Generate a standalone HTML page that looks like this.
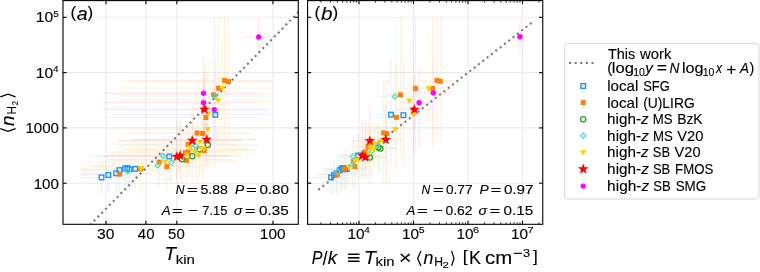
<!DOCTYPE html>
<html><head><meta charset="utf-8"><title>figure</title>
<style>html,body{margin:0;padding:0;background:#fff;}svg{display:block;will-change:transform;}</style>
</head><body>
<svg width="760" height="272" viewBox="0 0 760 272" font-family='"Liberation Sans", sans-serif'>
<style>text{stroke:#000;stroke-width:0.12px;}</style>
<rect width="760" height="272" fill="#fff"/>
<defs>
<clipPath id="ca"><rect x="63.0" y="0.6" width="235.3" height="223.70000000000002"/></clipPath>
<clipPath id="cb"><rect x="307.6" y="0.6" width="235.14999999999998" height="223.70000000000002"/></clipPath>
</defs>
<line x1="105.99" y1="0.6" x2="105.99" y2="224.3" stroke="#ebebeb" stroke-width="1.1"/>
<line x1="145.90" y1="0.6" x2="145.90" y2="224.3" stroke="#ebebeb" stroke-width="1.1"/>
<line x1="176.85" y1="0.6" x2="176.85" y2="224.3" stroke="#ebebeb" stroke-width="1.1"/>
<line x1="273.00" y1="0.6" x2="273.00" y2="224.3" stroke="#ebebeb" stroke-width="1.1"/>
<line x1="63.0" y1="183.20" x2="298.3" y2="183.20" stroke="#ebebeb" stroke-width="1.1"/>
<line x1="63.0" y1="127.90" x2="298.3" y2="127.90" stroke="#ebebeb" stroke-width="1.1"/>
<line x1="63.0" y1="72.60" x2="298.3" y2="72.60" stroke="#ebebeb" stroke-width="1.1"/>
<line x1="63.0" y1="17.30" x2="298.3" y2="17.30" stroke="#ebebeb" stroke-width="1.1"/>
<line x1="359.00" y1="0.6" x2="359.00" y2="224.3" stroke="#ebebeb" stroke-width="1.1"/>
<line x1="413.50" y1="0.6" x2="413.50" y2="224.3" stroke="#ebebeb" stroke-width="1.1"/>
<line x1="468.00" y1="0.6" x2="468.00" y2="224.3" stroke="#ebebeb" stroke-width="1.1"/>
<line x1="522.50" y1="0.6" x2="522.50" y2="224.3" stroke="#ebebeb" stroke-width="1.1"/>
<line x1="307.6" y1="183.20" x2="542.75" y2="183.20" stroke="#ebebeb" stroke-width="1.1"/>
<line x1="307.6" y1="127.90" x2="542.75" y2="127.90" stroke="#ebebeb" stroke-width="1.1"/>
<line x1="307.6" y1="72.60" x2="542.75" y2="72.60" stroke="#ebebeb" stroke-width="1.1"/>
<line x1="307.6" y1="17.30" x2="542.75" y2="17.30" stroke="#ebebeb" stroke-width="1.1"/>
<g clip-path="url(#ca)" stroke-width="1" opacity="0.13">
<line x1="80.5" y1="177.40" x2="136.5" y2="177.40" stroke="#1e90ff"/>
<line x1="101.50" y1="162.4" x2="101.50" y2="195.0" stroke="#1e90ff"/>
<line x1="80.5" y1="175.00" x2="143.4" y2="175.00" stroke="#1e90ff"/>
<line x1="108.40" y1="160.0" x2="108.40" y2="195.0" stroke="#1e90ff"/>
<line x1="80.5" y1="173.30" x2="151.2" y2="173.30" stroke="#1e90ff"/>
<line x1="116.20" y1="158.3" x2="116.20" y2="193.3" stroke="#1e90ff"/>
<line x1="80.5" y1="170.10" x2="154.5" y2="170.10" stroke="#1e90ff"/>
<line x1="119.50" y1="155.1" x2="119.50" y2="190.1" stroke="#1e90ff"/>
<line x1="80.5" y1="168.50" x2="160.1" y2="168.50" stroke="#1e90ff"/>
<line x1="125.10" y1="153.5" x2="125.10" y2="188.5" stroke="#1e90ff"/>
<line x1="80.5" y1="168.10" x2="162.4" y2="168.10" stroke="#1e90ff"/>
<line x1="127.40" y1="153.1" x2="127.40" y2="188.1" stroke="#1e90ff"/>
<line x1="80.5" y1="169.30" x2="164.6" y2="169.30" stroke="#1e90ff"/>
<line x1="129.60" y1="154.3" x2="129.60" y2="189.3" stroke="#1e90ff"/>
<line x1="85.2" y1="168.90" x2="170.2" y2="168.90" stroke="#1e90ff"/>
<line x1="135.20" y1="153.9" x2="135.20" y2="188.9" stroke="#1e90ff"/>
<line x1="94.3" y1="156.50" x2="219.3" y2="156.50" stroke="#1e90ff"/>
<line x1="169.30" y1="134.5" x2="169.30" y2="181.5" stroke="#1e90ff"/>
<line x1="115.3" y1="114.80" x2="270.3" y2="114.80" stroke="#1e90ff"/>
<line x1="215.30" y1="59.8" x2="215.30" y2="164.8" stroke="#1e90ff"/>
<line x1="80.5" y1="174.20" x2="169.6" y2="174.20" stroke="#ff7f0e"/>
<line x1="119.60" y1="152.2" x2="119.60" y2="195.0" stroke="#ff7f0e"/>
<line x1="80.5" y1="168.90" x2="190.5" y2="168.90" stroke="#ff7f0e"/>
<line x1="140.50" y1="146.9" x2="140.50" y2="193.9" stroke="#ff7f0e"/>
<line x1="84.2" y1="162.10" x2="209.2" y2="162.10" stroke="#ff7f0e"/>
<line x1="159.20" y1="140.1" x2="159.20" y2="187.1" stroke="#ff7f0e"/>
<line x1="91.9" y1="166.50" x2="216.9" y2="166.50" stroke="#ff7f0e"/>
<line x1="166.90" y1="144.5" x2="166.90" y2="191.5" stroke="#ff7f0e"/>
<line x1="110.4" y1="152.70" x2="235.4" y2="152.70" stroke="#ff7f0e"/>
<line x1="185.40" y1="130.7" x2="185.40" y2="177.7" stroke="#ff7f0e"/>
<line x1="113.1" y1="151.90" x2="238.1" y2="151.90" stroke="#ff7f0e"/>
<line x1="188.10" y1="129.9" x2="188.10" y2="176.9" stroke="#ff7f0e"/>
<line x1="113.1" y1="144.40" x2="238.1" y2="144.40" stroke="#ff7f0e"/>
<line x1="188.10" y1="122.4" x2="188.10" y2="169.4" stroke="#ff7f0e"/>
<line x1="111.5" y1="160.40" x2="236.5" y2="160.40" stroke="#ff7f0e"/>
<line x1="186.50" y1="138.4" x2="186.50" y2="185.4" stroke="#ff7f0e"/>
<line x1="129.1" y1="150.50" x2="254.1" y2="150.50" stroke="#ff7f0e"/>
<line x1="204.10" y1="128.5" x2="204.10" y2="175.5" stroke="#ff7f0e"/>
<line x1="122.1" y1="133.00" x2="247.1" y2="133.00" stroke="#ff7f0e"/>
<line x1="197.10" y1="78.0" x2="197.10" y2="183.0" stroke="#ff7f0e"/>
<line x1="127.6" y1="133.40" x2="252.6" y2="133.40" stroke="#ff7f0e"/>
<line x1="202.60" y1="78.4" x2="202.60" y2="183.4" stroke="#ff7f0e"/>
<line x1="105.9" y1="117.50" x2="260.9" y2="117.50" stroke="#ff7f0e"/>
<line x1="205.90" y1="62.5" x2="205.90" y2="167.5" stroke="#ff7f0e"/>
<line x1="113.6" y1="94.80" x2="268.6" y2="94.80" stroke="#ff7f0e"/>
<line x1="213.60" y1="17.5" x2="213.60" y2="154.8" stroke="#ff7f0e"/>
<line x1="118.6" y1="88.20" x2="273.0" y2="88.20" stroke="#ff7f0e"/>
<line x1="218.60" y1="17.5" x2="218.60" y2="148.2" stroke="#ff7f0e"/>
<line x1="124.6" y1="80.50" x2="273.0" y2="80.50" stroke="#ff7f0e"/>
<line x1="224.60" y1="17.5" x2="224.60" y2="140.5" stroke="#ff7f0e"/>
<line x1="128.5" y1="81.60" x2="273.0" y2="81.60" stroke="#ff7f0e"/>
<line x1="228.50" y1="17.5" x2="228.50" y2="141.6" stroke="#ff7f0e"/>
<line x1="132.8" y1="145.10" x2="257.8" y2="145.10" stroke="#2ca02c"/>
<line x1="207.80" y1="123.1" x2="207.80" y2="170.1" stroke="#2ca02c"/>
<line x1="107.0" y1="159.30" x2="232.0" y2="159.30" stroke="#2ca02c"/>
<line x1="182.00" y1="137.3" x2="182.00" y2="184.3" stroke="#2ca02c"/>
<line x1="117.2" y1="156.30" x2="242.2" y2="156.30" stroke="#2ca02c"/>
<line x1="192.20" y1="134.3" x2="192.20" y2="181.3" stroke="#2ca02c"/>
<line x1="124.7" y1="149.40" x2="249.7" y2="149.40" stroke="#2ca02c"/>
<line x1="199.70" y1="127.4" x2="199.70" y2="174.4" stroke="#2ca02c"/>
<line x1="80.5" y1="171.30" x2="177.6" y2="171.30" stroke="#40e0d0"/>
<line x1="127.60" y1="149.3" x2="127.60" y2="195.0" stroke="#40e0d0"/>
<line x1="82.6" y1="165.40" x2="207.6" y2="165.40" stroke="#40e0d0"/>
<line x1="157.60" y1="143.4" x2="157.60" y2="190.4" stroke="#40e0d0"/>
<line x1="88.1" y1="156.00" x2="213.1" y2="156.00" stroke="#40e0d0"/>
<line x1="163.10" y1="134.0" x2="163.10" y2="181.0" stroke="#40e0d0"/>
<line x1="96.3" y1="162.60" x2="221.3" y2="162.60" stroke="#40e0d0"/>
<line x1="171.30" y1="140.6" x2="171.30" y2="187.6" stroke="#40e0d0"/>
<line x1="118.1" y1="148.30" x2="243.1" y2="148.30" stroke="#40e0d0"/>
<line x1="193.10" y1="126.3" x2="193.10" y2="173.3" stroke="#40e0d0"/>
<line x1="120.8" y1="145.50" x2="245.8" y2="145.50" stroke="#40e0d0"/>
<line x1="195.80" y1="123.5" x2="195.80" y2="170.5" stroke="#40e0d0"/>
<line x1="115.0" y1="96.20" x2="270.0" y2="96.20" stroke="#40e0d0"/>
<line x1="215.00" y1="19.2" x2="215.00" y2="151.2" stroke="#40e0d0"/>
<line x1="80.5" y1="168.50" x2="190.9" y2="168.50" stroke="#ffd000"/>
<line x1="140.90" y1="146.5" x2="140.90" y2="193.5" stroke="#ffd000"/>
<line x1="90.1" y1="162.10" x2="215.1" y2="162.10" stroke="#ffd000"/>
<line x1="165.10" y1="140.1" x2="165.10" y2="187.1" stroke="#ffd000"/>
<line x1="111.0" y1="154.90" x2="236.0" y2="154.90" stroke="#ffd000"/>
<line x1="186.00" y1="132.9" x2="186.00" y2="179.9" stroke="#ffd000"/>
<line x1="114.8" y1="147.20" x2="239.8" y2="147.20" stroke="#ffd000"/>
<line x1="189.80" y1="125.2" x2="189.80" y2="172.2" stroke="#ffd000"/>
<line x1="120.3" y1="152.10" x2="245.3" y2="152.10" stroke="#ffd000"/>
<line x1="195.30" y1="130.1" x2="195.30" y2="177.1" stroke="#ffd000"/>
<line x1="123.6" y1="155.40" x2="248.6" y2="155.40" stroke="#ffd000"/>
<line x1="198.60" y1="133.4" x2="198.60" y2="180.4" stroke="#ffd000"/>
<line x1="126.3" y1="148.80" x2="251.3" y2="148.80" stroke="#ffd000"/>
<line x1="201.30" y1="126.8" x2="201.30" y2="173.8" stroke="#ffd000"/>
<line x1="128.5" y1="148.80" x2="253.5" y2="148.80" stroke="#ffd000"/>
<line x1="203.50" y1="126.8" x2="203.50" y2="173.8" stroke="#ffd000"/>
<line x1="124.8" y1="141.90" x2="249.8" y2="141.90" stroke="#ffd000"/>
<line x1="199.80" y1="119.9" x2="199.80" y2="166.9" stroke="#ffd000"/>
<line x1="107.8" y1="129.30" x2="262.8" y2="129.30" stroke="#ffd000"/>
<line x1="207.80" y1="74.3" x2="207.80" y2="179.3" stroke="#ffd000"/>
<line x1="108.4" y1="113.40" x2="263.4" y2="113.40" stroke="#ffd000"/>
<line x1="208.40" y1="58.4" x2="208.40" y2="163.4" stroke="#ffd000"/>
<line x1="118.0" y1="100.50" x2="273.0" y2="100.50" stroke="#ffd000"/>
<line x1="218.00" y1="34.5" x2="218.00" y2="150.5" stroke="#ffd000"/>
<line x1="122.4" y1="88.20" x2="273.0" y2="88.20" stroke="#ffd000"/>
<line x1="222.40" y1="33.2" x2="222.40" y2="138.2" stroke="#ffd000"/>
<line x1="101.9" y1="156.60" x2="226.9" y2="156.60" stroke="#ff0000"/>
<line x1="176.90" y1="121.6" x2="176.90" y2="179.6" stroke="#ff0000"/>
<line x1="105.2" y1="155.50" x2="230.2" y2="155.50" stroke="#ff0000"/>
<line x1="180.20" y1="120.5" x2="180.20" y2="178.5" stroke="#ff0000"/>
<line x1="117.3" y1="140.50" x2="242.3" y2="140.50" stroke="#ff0000"/>
<line x1="192.30" y1="105.5" x2="192.30" y2="163.5" stroke="#ff0000"/>
<line x1="131.7" y1="139.40" x2="256.7" y2="139.40" stroke="#ff0000"/>
<line x1="206.70" y1="104.4" x2="206.70" y2="162.4" stroke="#ff0000"/>
<line x1="104.5" y1="109.30" x2="259.5" y2="109.30" stroke="#ff0000"/>
<line x1="204.50" y1="74.3" x2="204.50" y2="132.3" stroke="#ff0000"/>
<line x1="103.5" y1="93.20" x2="258.5" y2="93.20" stroke="#ff00ff"/>
<line x1="203.50" y1="58.2" x2="203.50" y2="138.2" stroke="#ff00ff"/>
<line x1="103.5" y1="102.70" x2="258.5" y2="102.70" stroke="#ff00ff"/>
<line x1="203.50" y1="67.7" x2="203.50" y2="147.7" stroke="#ff00ff"/>
<line x1="114.2" y1="109.60" x2="269.2" y2="109.60" stroke="#ff00ff"/>
<line x1="214.20" y1="74.6" x2="214.20" y2="154.6" stroke="#ff00ff"/>
<line x1="243.7" y1="36.90" x2="272.7" y2="36.90" stroke="#ff00ff"/>
<line x1="258.70" y1="17.5" x2="258.70" y2="54.9" stroke="#ff00ff"/>
</g>
<g clip-path="url(#cb)" stroke-width="1" opacity="0.13">
<line x1="313.1" y1="177.40" x2="349.1" y2="177.40" stroke="#1e90ff"/>
<line x1="331.10" y1="162.4" x2="331.10" y2="195.0" stroke="#1e90ff"/>
<line x1="316.0" y1="175.00" x2="352.0" y2="175.00" stroke="#1e90ff"/>
<line x1="334.00" y1="160.0" x2="334.00" y2="195.0" stroke="#1e90ff"/>
<line x1="318.5" y1="173.30" x2="354.5" y2="173.30" stroke="#1e90ff"/>
<line x1="336.50" y1="158.3" x2="336.50" y2="193.3" stroke="#1e90ff"/>
<line x1="321.8" y1="170.10" x2="357.8" y2="170.10" stroke="#1e90ff"/>
<line x1="339.80" y1="155.1" x2="339.80" y2="190.1" stroke="#1e90ff"/>
<line x1="323.5" y1="168.50" x2="359.5" y2="168.50" stroke="#1e90ff"/>
<line x1="341.50" y1="153.5" x2="341.50" y2="188.5" stroke="#1e90ff"/>
<line x1="325.0" y1="168.10" x2="361.0" y2="168.10" stroke="#1e90ff"/>
<line x1="343.00" y1="153.1" x2="343.00" y2="188.1" stroke="#1e90ff"/>
<line x1="327.5" y1="169.30" x2="363.5" y2="169.30" stroke="#1e90ff"/>
<line x1="345.50" y1="154.3" x2="345.50" y2="189.3" stroke="#1e90ff"/>
<line x1="329.0" y1="168.90" x2="365.0" y2="168.90" stroke="#1e90ff"/>
<line x1="347.00" y1="153.9" x2="347.00" y2="188.9" stroke="#1e90ff"/>
<line x1="340.2" y1="155.40" x2="376.2" y2="155.40" stroke="#1e90ff"/>
<line x1="358.20" y1="133.4" x2="358.20" y2="180.4" stroke="#1e90ff"/>
<line x1="373.0" y1="114.60" x2="409.0" y2="114.60" stroke="#1e90ff"/>
<line x1="391.00" y1="59.6" x2="391.00" y2="164.6" stroke="#1e90ff"/>
<line x1="385.4" y1="115.20" x2="421.4" y2="115.20" stroke="#1e90ff"/>
<line x1="403.40" y1="60.2" x2="403.40" y2="165.2" stroke="#1e90ff"/>
<line x1="319.1" y1="174.60" x2="355.1" y2="174.60" stroke="#ff7f0e"/>
<line x1="337.10" y1="152.6" x2="337.10" y2="195.0" stroke="#ff7f0e"/>
<line x1="326.4" y1="168.90" x2="362.4" y2="168.90" stroke="#ff7f0e"/>
<line x1="344.40" y1="146.9" x2="344.40" y2="193.9" stroke="#ff7f0e"/>
<line x1="335.4" y1="161.20" x2="371.4" y2="161.20" stroke="#ff7f0e"/>
<line x1="353.40" y1="139.2" x2="353.40" y2="186.2" stroke="#ff7f0e"/>
<line x1="336.9" y1="166.50" x2="372.9" y2="166.50" stroke="#ff7f0e"/>
<line x1="354.90" y1="144.5" x2="354.90" y2="191.5" stroke="#ff7f0e"/>
<line x1="347.4" y1="151.90" x2="383.4" y2="151.90" stroke="#ff7f0e"/>
<line x1="365.40" y1="129.9" x2="365.40" y2="176.9" stroke="#ff7f0e"/>
<line x1="350.1" y1="146.60" x2="386.1" y2="146.60" stroke="#ff7f0e"/>
<line x1="368.10" y1="124.6" x2="368.10" y2="171.6" stroke="#ff7f0e"/>
<line x1="365.7" y1="132.90" x2="401.7" y2="132.90" stroke="#ff7f0e"/>
<line x1="383.70" y1="77.9" x2="383.70" y2="182.9" stroke="#ff7f0e"/>
<line x1="368.5" y1="133.60" x2="404.5" y2="133.60" stroke="#ff7f0e"/>
<line x1="386.50" y1="78.6" x2="386.50" y2="183.6" stroke="#ff7f0e"/>
<line x1="378.5" y1="117.40" x2="414.5" y2="117.40" stroke="#ff7f0e"/>
<line x1="396.50" y1="62.4" x2="396.50" y2="167.4" stroke="#ff7f0e"/>
<line x1="382.4" y1="94.80" x2="418.4" y2="94.80" stroke="#ff7f0e"/>
<line x1="400.40" y1="17.5" x2="400.40" y2="154.8" stroke="#ff7f0e"/>
<line x1="397.5" y1="88.40" x2="433.5" y2="88.40" stroke="#ff7f0e"/>
<line x1="415.50" y1="17.5" x2="415.50" y2="148.4" stroke="#ff7f0e"/>
<line x1="414.6" y1="88.40" x2="450.6" y2="88.40" stroke="#ff7f0e"/>
<line x1="432.60" y1="17.5" x2="432.60" y2="148.4" stroke="#ff7f0e"/>
<line x1="419.0" y1="80.40" x2="455.0" y2="80.40" stroke="#ff7f0e"/>
<line x1="437.00" y1="17.5" x2="437.00" y2="140.4" stroke="#ff7f0e"/>
<line x1="422.3" y1="81.30" x2="458.3" y2="81.30" stroke="#ff7f0e"/>
<line x1="440.30" y1="17.5" x2="440.30" y2="141.3" stroke="#ff7f0e"/>
<line x1="362.4" y1="148.60" x2="398.4" y2="148.60" stroke="#2ca02c"/>
<line x1="380.40" y1="126.6" x2="380.40" y2="173.6" stroke="#2ca02c"/>
<line x1="351.9" y1="157.60" x2="387.9" y2="157.60" stroke="#2ca02c"/>
<line x1="369.90" y1="135.6" x2="369.90" y2="182.6" stroke="#2ca02c"/>
<line x1="360.3" y1="147.40" x2="396.3" y2="147.40" stroke="#2ca02c"/>
<line x1="378.30" y1="125.4" x2="378.30" y2="172.4" stroke="#2ca02c"/>
<line x1="319.3" y1="171.80" x2="355.3" y2="171.80" stroke="#40e0d0"/>
<line x1="337.30" y1="149.8" x2="337.30" y2="195.0" stroke="#40e0d0"/>
<line x1="334.9" y1="164.40" x2="370.9" y2="164.40" stroke="#40e0d0"/>
<line x1="352.90" y1="142.4" x2="352.90" y2="189.4" stroke="#40e0d0"/>
<line x1="335.0" y1="156.30" x2="371.0" y2="156.30" stroke="#40e0d0"/>
<line x1="353.00" y1="134.3" x2="353.00" y2="181.3" stroke="#40e0d0"/>
<line x1="354.0" y1="151.00" x2="390.0" y2="151.00" stroke="#40e0d0"/>
<line x1="372.00" y1="129.0" x2="372.00" y2="176.0" stroke="#40e0d0"/>
<line x1="359.5" y1="145.00" x2="395.5" y2="145.00" stroke="#40e0d0"/>
<line x1="377.50" y1="123.0" x2="377.50" y2="170.0" stroke="#40e0d0"/>
<line x1="376.9" y1="96.50" x2="412.9" y2="96.50" stroke="#40e0d0"/>
<line x1="394.90" y1="19.5" x2="394.90" y2="151.5" stroke="#40e0d0"/>
<line x1="331.3" y1="167.70" x2="367.3" y2="167.70" stroke="#ffd000"/>
<line x1="349.30" y1="145.7" x2="349.30" y2="192.7" stroke="#ffd000"/>
<line x1="337.4" y1="161.00" x2="373.4" y2="161.00" stroke="#ffd000"/>
<line x1="355.40" y1="139.0" x2="355.40" y2="186.0" stroke="#ffd000"/>
<line x1="340.2" y1="159.80" x2="376.2" y2="159.80" stroke="#ffd000"/>
<line x1="358.20" y1="137.8" x2="358.20" y2="184.8" stroke="#ffd000"/>
<line x1="350.1" y1="153.20" x2="386.1" y2="153.20" stroke="#ffd000"/>
<line x1="368.10" y1="131.2" x2="368.10" y2="178.2" stroke="#ffd000"/>
<line x1="352.3" y1="147.70" x2="388.3" y2="147.70" stroke="#ffd000"/>
<line x1="370.30" y1="125.7" x2="370.30" y2="172.7" stroke="#ffd000"/>
<line x1="355.6" y1="149.40" x2="391.6" y2="149.40" stroke="#ffd000"/>
<line x1="373.60" y1="127.4" x2="373.60" y2="174.4" stroke="#ffd000"/>
<line x1="356.7" y1="143.90" x2="392.7" y2="143.90" stroke="#ffd000"/>
<line x1="374.70" y1="121.9" x2="374.70" y2="168.9" stroke="#ffd000"/>
<line x1="362.2" y1="141.70" x2="398.2" y2="141.70" stroke="#ffd000"/>
<line x1="380.20" y1="119.7" x2="380.20" y2="166.7" stroke="#ffd000"/>
<line x1="377.1" y1="129.20" x2="413.1" y2="129.20" stroke="#ffd000"/>
<line x1="395.10" y1="74.2" x2="395.10" y2="179.2" stroke="#ffd000"/>
<line x1="395.1" y1="114.30" x2="431.1" y2="114.30" stroke="#ffd000"/>
<line x1="413.10" y1="59.3" x2="413.10" y2="164.3" stroke="#ffd000"/>
<line x1="391.2" y1="100.80" x2="427.2" y2="100.80" stroke="#ffd000"/>
<line x1="409.20" y1="34.8" x2="409.20" y2="150.8" stroke="#ffd000"/>
<line x1="410.7" y1="88.40" x2="446.7" y2="88.40" stroke="#ffd000"/>
<line x1="428.70" y1="33.4" x2="428.70" y2="138.4" stroke="#ffd000"/>
<line x1="344.2" y1="155.50" x2="380.2" y2="155.50" stroke="#ff0000"/>
<line x1="362.20" y1="120.5" x2="362.20" y2="178.5" stroke="#ff0000"/>
<line x1="347.2" y1="157.20" x2="383.2" y2="157.20" stroke="#ff0000"/>
<line x1="365.20" y1="122.2" x2="365.20" y2="180.2" stroke="#ff0000"/>
<line x1="351.8" y1="140.80" x2="387.8" y2="140.80" stroke="#ff0000"/>
<line x1="369.80" y1="105.8" x2="369.80" y2="163.8" stroke="#ff0000"/>
<line x1="367.8" y1="139.60" x2="403.8" y2="139.60" stroke="#ff0000"/>
<line x1="385.80" y1="104.6" x2="385.80" y2="162.6" stroke="#ff0000"/>
<line x1="396.4" y1="109.40" x2="432.4" y2="109.40" stroke="#ff0000"/>
<line x1="414.40" y1="74.4" x2="414.40" y2="132.4" stroke="#ff0000"/>
<line x1="415.3" y1="92.90" x2="451.3" y2="92.90" stroke="#ff00ff"/>
<line x1="433.30" y1="57.9" x2="433.30" y2="137.9" stroke="#ff00ff"/>
<line x1="401.1" y1="102.70" x2="437.1" y2="102.70" stroke="#ff00ff"/>
<line x1="419.10" y1="67.7" x2="419.10" y2="147.7" stroke="#ff00ff"/>
<line x1="396.0" y1="109.60" x2="432.0" y2="109.60" stroke="#ff00ff"/>
<line x1="414.00" y1="74.6" x2="414.00" y2="154.6" stroke="#ff00ff"/>
<line x1="514.0" y1="36.80" x2="526.0" y2="36.80" stroke="#ff00ff"/>
<line x1="520.00" y1="17.5" x2="520.00" y2="54.8" stroke="#ff00ff"/>
</g>
<line x1="86.09" y1="229.09" x2="298.57" y2="12.03" stroke="#7a7a7a" stroke-width="2.1" stroke-dasharray="2.1 3.384" clip-path="url(#ca)"/>
<line x1="318.17" y1="189.95" x2="531.63" y2="22.85" stroke="#7a7a7a" stroke-width="2.1" stroke-dasharray="2.1 3.389" clip-path="url(#cb)"/>
<g clip-path="url(#ca)">
<rect x="99.20" y="175.10" width="4.60" height="4.60" fill="none" stroke="#1e90ff" stroke-width="1.35"/>
<rect x="106.10" y="172.70" width="4.60" height="4.60" fill="none" stroke="#1e90ff" stroke-width="1.35"/>
<rect x="113.90" y="171.00" width="4.60" height="4.60" fill="none" stroke="#1e90ff" stroke-width="1.35"/>
<rect x="117.20" y="167.80" width="4.60" height="4.60" fill="none" stroke="#1e90ff" stroke-width="1.35"/>
<rect x="122.80" y="166.20" width="4.60" height="4.60" fill="none" stroke="#1e90ff" stroke-width="1.35"/>
<rect x="125.10" y="165.80" width="4.60" height="4.60" fill="none" stroke="#1e90ff" stroke-width="1.35"/>
<rect x="127.30" y="167.00" width="4.60" height="4.60" fill="none" stroke="#1e90ff" stroke-width="1.35"/>
<rect x="132.90" y="166.60" width="4.60" height="4.60" fill="none" stroke="#1e90ff" stroke-width="1.35"/>
<rect x="167.00" y="154.20" width="4.60" height="4.60" fill="none" stroke="#1e90ff" stroke-width="1.35"/>
<rect x="213.00" y="112.50" width="4.60" height="4.60" fill="none" stroke="#1e90ff" stroke-width="1.35"/>
<rect x="117.10" y="171.70" width="5.00" height="5.00" fill="#ff7f0e"/>
<rect x="138.00" y="166.40" width="5.00" height="5.00" fill="#ff7f0e"/>
<rect x="156.70" y="159.60" width="5.00" height="5.00" fill="#ff7f0e"/>
<rect x="164.40" y="164.00" width="5.00" height="5.00" fill="#ff7f0e"/>
<rect x="182.90" y="150.20" width="5.00" height="5.00" fill="#ff7f0e"/>
<rect x="185.60" y="149.40" width="5.00" height="5.00" fill="#ff7f0e"/>
<rect x="185.60" y="141.90" width="5.00" height="5.00" fill="#ff7f0e"/>
<rect x="184.00" y="157.90" width="5.00" height="5.00" fill="#ff7f0e"/>
<rect x="201.60" y="148.00" width="5.00" height="5.00" fill="#ff7f0e"/>
<rect x="194.60" y="130.50" width="5.00" height="5.00" fill="#ff7f0e"/>
<rect x="200.10" y="130.90" width="5.00" height="5.00" fill="#ff7f0e"/>
<rect x="203.40" y="115.00" width="5.00" height="5.00" fill="#ff7f0e"/>
<rect x="211.10" y="92.30" width="5.00" height="5.00" fill="#ff7f0e"/>
<rect x="216.10" y="85.70" width="5.00" height="5.00" fill="#ff7f0e"/>
<rect x="222.10" y="78.00" width="5.00" height="5.00" fill="#ff7f0e"/>
<rect x="226.00" y="79.10" width="5.00" height="5.00" fill="#ff7f0e"/>
<circle cx="207.80" cy="145.10" r="2.60" fill="none" stroke="#2ca02c" stroke-width="1.3"/>
<circle cx="182.00" cy="159.30" r="2.60" fill="none" stroke="#2ca02c" stroke-width="1.3"/>
<circle cx="192.20" cy="156.30" r="2.60" fill="none" stroke="#2ca02c" stroke-width="1.3"/>
<circle cx="199.70" cy="149.40" r="2.60" fill="none" stroke="#2ca02c" stroke-width="1.3"/>
<path d="M127.60 168.70L130.20 171.30L127.60 173.90L125.00 171.30Z" fill="none" stroke="#40e0d0" stroke-width="1.2"/>
<path d="M157.60 162.80L160.20 165.40L157.60 168.00L155.00 165.40Z" fill="none" stroke="#40e0d0" stroke-width="1.2"/>
<path d="M163.10 153.40L165.70 156.00L163.10 158.60L160.50 156.00Z" fill="none" stroke="#40e0d0" stroke-width="1.2"/>
<path d="M171.30 160.00L173.90 162.60L171.30 165.20L168.70 162.60Z" fill="none" stroke="#40e0d0" stroke-width="1.2"/>
<path d="M193.10 145.70L195.70 148.30L193.10 150.90L190.50 148.30Z" fill="none" stroke="#40e0d0" stroke-width="1.2"/>
<path d="M195.80 142.90L198.40 145.50L195.80 148.10L193.20 145.50Z" fill="none" stroke="#40e0d0" stroke-width="1.2"/>
<path d="M215.00 93.60L217.60 96.20L215.00 98.80L212.40 96.20Z" fill="none" stroke="#40e0d0" stroke-width="1.2"/>
<path d="M137.70 166.25L144.10 166.25L140.90 171.65Z" fill="#ffd000"/>
<path d="M161.90 159.85L168.30 159.85L165.10 165.25Z" fill="#ffd000"/>
<path d="M182.80 152.65L189.20 152.65L186.00 158.05Z" fill="#ffd000"/>
<path d="M186.60 144.95L193.00 144.95L189.80 150.35Z" fill="#ffd000"/>
<path d="M192.10 149.85L198.50 149.85L195.30 155.25Z" fill="#ffd000"/>
<path d="M195.40 153.15L201.80 153.15L198.60 158.55Z" fill="#ffd000"/>
<path d="M198.10 146.55L204.50 146.55L201.30 151.95Z" fill="#ffd000"/>
<path d="M200.30 146.55L206.70 146.55L203.50 151.95Z" fill="#ffd000"/>
<path d="M196.60 139.65L203.00 139.65L199.80 145.05Z" fill="#ffd000"/>
<path d="M204.60 127.05L211.00 127.05L207.80 132.45Z" fill="#ffd000"/>
<path d="M205.20 111.15L211.60 111.15L208.40 116.55Z" fill="#ffd000"/>
<path d="M214.80 98.25L221.20 98.25L218.00 103.65Z" fill="#ffd000"/>
<path d="M219.20 85.95L225.60 85.95L222.40 91.35Z" fill="#ffd000"/>
<circle cx="203.50" cy="93.20" r="2.70" fill="#ff00ff"/>
<circle cx="203.50" cy="102.70" r="2.70" fill="#ff00ff"/>
<circle cx="214.20" cy="109.60" r="2.70" fill="#ff00ff"/>
<circle cx="258.70" cy="36.90" r="2.70" fill="#ff00ff"/>
<polygon points="176.90,151.10 178.25,154.84 182.23,154.97 179.09,157.41 180.19,161.23 176.90,159.00 173.61,161.23 174.71,157.41 171.57,154.97 175.55,154.84" fill="#ff0000"/>
<polygon points="180.20,150.00 181.55,153.74 185.53,153.87 182.39,156.31 183.49,160.13 180.20,157.90 176.91,160.13 178.01,156.31 174.87,153.87 178.85,153.74" fill="#ff0000"/>
<polygon points="192.30,135.00 193.65,138.74 197.63,138.87 194.49,141.31 195.59,145.13 192.30,142.90 189.01,145.13 190.11,141.31 186.97,138.87 190.95,138.74" fill="#ff0000"/>
<polygon points="206.70,133.90 208.05,137.64 212.03,137.77 208.89,140.21 209.99,144.03 206.70,141.80 203.41,144.03 204.51,140.21 201.37,137.77 205.35,137.64" fill="#ff0000"/>
<polygon points="204.50,103.80 205.85,107.54 209.83,107.67 206.69,110.11 207.79,113.93 204.50,111.70 201.21,113.93 202.31,110.11 199.17,107.67 203.15,107.54" fill="#ff0000"/>
</g>
<g clip-path="url(#cb)">
<rect x="328.80" y="175.10" width="4.60" height="4.60" fill="none" stroke="#1e90ff" stroke-width="1.35"/>
<rect x="331.70" y="172.70" width="4.60" height="4.60" fill="none" stroke="#1e90ff" stroke-width="1.35"/>
<rect x="334.20" y="171.00" width="4.60" height="4.60" fill="none" stroke="#1e90ff" stroke-width="1.35"/>
<rect x="337.50" y="167.80" width="4.60" height="4.60" fill="none" stroke="#1e90ff" stroke-width="1.35"/>
<rect x="339.20" y="166.20" width="4.60" height="4.60" fill="none" stroke="#1e90ff" stroke-width="1.35"/>
<rect x="340.70" y="165.80" width="4.60" height="4.60" fill="none" stroke="#1e90ff" stroke-width="1.35"/>
<rect x="343.20" y="167.00" width="4.60" height="4.60" fill="none" stroke="#1e90ff" stroke-width="1.35"/>
<rect x="344.70" y="166.60" width="4.60" height="4.60" fill="none" stroke="#1e90ff" stroke-width="1.35"/>
<rect x="355.90" y="153.10" width="4.60" height="4.60" fill="none" stroke="#1e90ff" stroke-width="1.35"/>
<rect x="388.70" y="112.30" width="4.60" height="4.60" fill="none" stroke="#1e90ff" stroke-width="1.35"/>
<rect x="401.10" y="112.90" width="4.60" height="4.60" fill="none" stroke="#1e90ff" stroke-width="1.35"/>
<rect x="334.60" y="172.10" width="5.00" height="5.00" fill="#ff7f0e"/>
<rect x="341.90" y="166.40" width="5.00" height="5.00" fill="#ff7f0e"/>
<rect x="350.90" y="158.70" width="5.00" height="5.00" fill="#ff7f0e"/>
<rect x="352.40" y="164.00" width="5.00" height="5.00" fill="#ff7f0e"/>
<rect x="362.90" y="149.40" width="5.00" height="5.00" fill="#ff7f0e"/>
<rect x="365.60" y="144.10" width="5.00" height="5.00" fill="#ff7f0e"/>
<rect x="381.20" y="130.40" width="5.00" height="5.00" fill="#ff7f0e"/>
<rect x="384.00" y="131.10" width="5.00" height="5.00" fill="#ff7f0e"/>
<rect x="394.00" y="114.90" width="5.00" height="5.00" fill="#ff7f0e"/>
<rect x="397.90" y="92.30" width="5.00" height="5.00" fill="#ff7f0e"/>
<rect x="413.00" y="85.90" width="5.00" height="5.00" fill="#ff7f0e"/>
<rect x="430.10" y="85.90" width="5.00" height="5.00" fill="#ff7f0e"/>
<rect x="434.50" y="77.90" width="5.00" height="5.00" fill="#ff7f0e"/>
<rect x="437.80" y="78.80" width="5.00" height="5.00" fill="#ff7f0e"/>
<circle cx="380.40" cy="148.60" r="2.60" fill="none" stroke="#2ca02c" stroke-width="1.3"/>
<circle cx="369.90" cy="157.60" r="2.60" fill="none" stroke="#2ca02c" stroke-width="1.3"/>
<circle cx="378.30" cy="147.40" r="2.60" fill="none" stroke="#2ca02c" stroke-width="1.3"/>
<path d="M337.30 169.20L339.90 171.80L337.30 174.40L334.70 171.80Z" fill="none" stroke="#40e0d0" stroke-width="1.2"/>
<path d="M352.90 161.80L355.50 164.40L352.90 167.00L350.30 164.40Z" fill="none" stroke="#40e0d0" stroke-width="1.2"/>
<path d="M353.00 153.70L355.60 156.30L353.00 158.90L350.40 156.30Z" fill="none" stroke="#40e0d0" stroke-width="1.2"/>
<path d="M372.00 148.40L374.60 151.00L372.00 153.60L369.40 151.00Z" fill="none" stroke="#40e0d0" stroke-width="1.2"/>
<path d="M377.50 142.40L380.10 145.00L377.50 147.60L374.90 145.00Z" fill="none" stroke="#40e0d0" stroke-width="1.2"/>
<path d="M394.90 93.90L397.50 96.50L394.90 99.10L392.30 96.50Z" fill="none" stroke="#40e0d0" stroke-width="1.2"/>
<path d="M346.10 165.45L352.50 165.45L349.30 170.85Z" fill="#ffd000"/>
<path d="M352.20 158.75L358.60 158.75L355.40 164.15Z" fill="#ffd000"/>
<path d="M355.00 157.55L361.40 157.55L358.20 162.95Z" fill="#ffd000"/>
<path d="M364.90 150.95L371.30 150.95L368.10 156.35Z" fill="#ffd000"/>
<path d="M367.10 145.45L373.50 145.45L370.30 150.85Z" fill="#ffd000"/>
<path d="M370.40 147.15L376.80 147.15L373.60 152.55Z" fill="#ffd000"/>
<path d="M371.50 141.65L377.90 141.65L374.70 147.05Z" fill="#ffd000"/>
<path d="M377.00 139.45L383.40 139.45L380.20 144.85Z" fill="#ffd000"/>
<path d="M391.90 126.95L398.30 126.95L395.10 132.35Z" fill="#ffd000"/>
<path d="M409.90 112.05L416.30 112.05L413.10 117.45Z" fill="#ffd000"/>
<path d="M406.00 98.55L412.40 98.55L409.20 103.95Z" fill="#ffd000"/>
<path d="M425.50 86.15L431.90 86.15L428.70 91.55Z" fill="#ffd000"/>
<circle cx="433.30" cy="92.90" r="2.70" fill="#ff00ff"/>
<circle cx="419.10" cy="102.70" r="2.70" fill="#ff00ff"/>
<circle cx="414.00" cy="109.60" r="2.70" fill="#ff00ff"/>
<circle cx="520.00" cy="36.80" r="2.70" fill="#ff00ff"/>
<polygon points="362.20,150.00 363.55,153.74 367.53,153.87 364.39,156.31 365.49,160.13 362.20,157.90 358.91,160.13 360.01,156.31 356.87,153.87 360.85,153.74" fill="#ff0000"/>
<polygon points="365.20,151.70 366.55,155.44 370.53,155.57 367.39,158.01 368.49,161.83 365.20,159.60 361.91,161.83 363.01,158.01 359.87,155.57 363.85,155.44" fill="#ff0000"/>
<polygon points="369.80,135.30 371.15,139.04 375.13,139.17 371.99,141.61 373.09,145.43 369.80,143.20 366.51,145.43 367.61,141.61 364.47,139.17 368.45,139.04" fill="#ff0000"/>
<polygon points="385.80,134.10 387.15,137.84 391.13,137.97 387.99,140.41 389.09,144.23 385.80,142.00 382.51,144.23 383.61,140.41 380.47,137.97 384.45,137.84" fill="#ff0000"/>
<polygon points="414.40,103.90 415.75,107.64 419.73,107.77 416.59,110.21 417.69,114.03 414.40,111.80 411.11,114.03 412.21,110.21 409.07,107.77 413.05,107.64" fill="#ff0000"/>
</g>
<rect x="63.0" y="0.6" width="235.30" height="223.70" fill="none" stroke="#000" stroke-width="1.1"/>
<rect x="307.6" y="0.6" width="235.15" height="223.70" fill="none" stroke="#000" stroke-width="1.1"/>
<line x1="105.99" y1="224.3" x2="105.99" y2="220.70" stroke="#000" stroke-width="1.1"/>
<line x1="105.99" y1="0.6" x2="105.99" y2="4.20" stroke="#000" stroke-width="1.1"/>
<line x1="145.90" y1="224.3" x2="145.90" y2="220.70" stroke="#000" stroke-width="1.1"/>
<line x1="145.90" y1="0.6" x2="145.90" y2="4.20" stroke="#000" stroke-width="1.1"/>
<line x1="176.85" y1="224.3" x2="176.85" y2="220.70" stroke="#000" stroke-width="1.1"/>
<line x1="176.85" y1="0.6" x2="176.85" y2="4.20" stroke="#000" stroke-width="1.1"/>
<line x1="273.00" y1="224.3" x2="273.00" y2="220.70" stroke="#000" stroke-width="1.1"/>
<line x1="273.00" y1="0.6" x2="273.00" y2="4.20" stroke="#000" stroke-width="1.1"/>
<line x1="63.0" y1="183.20" x2="66.60" y2="183.20" stroke="#000" stroke-width="1.1"/>
<line x1="298.3" y1="183.20" x2="294.70" y2="183.20" stroke="#000" stroke-width="1.1"/>
<line x1="63.0" y1="127.90" x2="66.60" y2="127.90" stroke="#000" stroke-width="1.1"/>
<line x1="298.3" y1="127.90" x2="294.70" y2="127.90" stroke="#000" stroke-width="1.1"/>
<line x1="63.0" y1="72.60" x2="66.60" y2="72.60" stroke="#000" stroke-width="1.1"/>
<line x1="298.3" y1="72.60" x2="294.70" y2="72.60" stroke="#000" stroke-width="1.1"/>
<line x1="63.0" y1="17.30" x2="66.60" y2="17.30" stroke="#000" stroke-width="1.1"/>
<line x1="298.3" y1="17.30" x2="294.70" y2="17.30" stroke="#000" stroke-width="1.1"/>
<line x1="359.00" y1="224.3" x2="359.00" y2="220.70" stroke="#000" stroke-width="1.1"/>
<line x1="359.00" y1="0.6" x2="359.00" y2="4.20" stroke="#000" stroke-width="1.1"/>
<line x1="413.50" y1="224.3" x2="413.50" y2="220.70" stroke="#000" stroke-width="1.1"/>
<line x1="413.50" y1="0.6" x2="413.50" y2="4.20" stroke="#000" stroke-width="1.1"/>
<line x1="468.00" y1="224.3" x2="468.00" y2="220.70" stroke="#000" stroke-width="1.1"/>
<line x1="468.00" y1="0.6" x2="468.00" y2="4.20" stroke="#000" stroke-width="1.1"/>
<line x1="522.50" y1="224.3" x2="522.50" y2="220.70" stroke="#000" stroke-width="1.1"/>
<line x1="522.50" y1="0.6" x2="522.50" y2="4.20" stroke="#000" stroke-width="1.1"/>
<line x1="320.91" y1="224.3" x2="320.91" y2="222.30" stroke="#000" stroke-width="0.8"/>
<line x1="320.91" y1="0.6" x2="320.91" y2="2.60" stroke="#000" stroke-width="0.8"/>
<line x1="330.50" y1="224.3" x2="330.50" y2="222.30" stroke="#000" stroke-width="0.8"/>
<line x1="330.50" y1="0.6" x2="330.50" y2="2.60" stroke="#000" stroke-width="0.8"/>
<line x1="337.31" y1="224.3" x2="337.31" y2="222.30" stroke="#000" stroke-width="0.8"/>
<line x1="337.31" y1="0.6" x2="337.31" y2="2.60" stroke="#000" stroke-width="0.8"/>
<line x1="342.59" y1="224.3" x2="342.59" y2="222.30" stroke="#000" stroke-width="0.8"/>
<line x1="342.59" y1="0.6" x2="342.59" y2="2.60" stroke="#000" stroke-width="0.8"/>
<line x1="346.91" y1="224.3" x2="346.91" y2="222.30" stroke="#000" stroke-width="0.8"/>
<line x1="346.91" y1="0.6" x2="346.91" y2="2.60" stroke="#000" stroke-width="0.8"/>
<line x1="350.56" y1="224.3" x2="350.56" y2="222.30" stroke="#000" stroke-width="0.8"/>
<line x1="350.56" y1="0.6" x2="350.56" y2="2.60" stroke="#000" stroke-width="0.8"/>
<line x1="353.72" y1="224.3" x2="353.72" y2="222.30" stroke="#000" stroke-width="0.8"/>
<line x1="353.72" y1="0.6" x2="353.72" y2="2.60" stroke="#000" stroke-width="0.8"/>
<line x1="356.51" y1="224.3" x2="356.51" y2="222.30" stroke="#000" stroke-width="0.8"/>
<line x1="356.51" y1="0.6" x2="356.51" y2="2.60" stroke="#000" stroke-width="0.8"/>
<line x1="375.41" y1="224.3" x2="375.41" y2="222.30" stroke="#000" stroke-width="0.8"/>
<line x1="375.41" y1="0.6" x2="375.41" y2="2.60" stroke="#000" stroke-width="0.8"/>
<line x1="385.00" y1="224.3" x2="385.00" y2="222.30" stroke="#000" stroke-width="0.8"/>
<line x1="385.00" y1="0.6" x2="385.00" y2="2.60" stroke="#000" stroke-width="0.8"/>
<line x1="391.81" y1="224.3" x2="391.81" y2="222.30" stroke="#000" stroke-width="0.8"/>
<line x1="391.81" y1="0.6" x2="391.81" y2="2.60" stroke="#000" stroke-width="0.8"/>
<line x1="397.09" y1="224.3" x2="397.09" y2="222.30" stroke="#000" stroke-width="0.8"/>
<line x1="397.09" y1="0.6" x2="397.09" y2="2.60" stroke="#000" stroke-width="0.8"/>
<line x1="401.41" y1="224.3" x2="401.41" y2="222.30" stroke="#000" stroke-width="0.8"/>
<line x1="401.41" y1="0.6" x2="401.41" y2="2.60" stroke="#000" stroke-width="0.8"/>
<line x1="405.06" y1="224.3" x2="405.06" y2="222.30" stroke="#000" stroke-width="0.8"/>
<line x1="405.06" y1="0.6" x2="405.06" y2="2.60" stroke="#000" stroke-width="0.8"/>
<line x1="408.22" y1="224.3" x2="408.22" y2="222.30" stroke="#000" stroke-width="0.8"/>
<line x1="408.22" y1="0.6" x2="408.22" y2="2.60" stroke="#000" stroke-width="0.8"/>
<line x1="411.01" y1="224.3" x2="411.01" y2="222.30" stroke="#000" stroke-width="0.8"/>
<line x1="411.01" y1="0.6" x2="411.01" y2="2.60" stroke="#000" stroke-width="0.8"/>
<line x1="429.91" y1="224.3" x2="429.91" y2="222.30" stroke="#000" stroke-width="0.8"/>
<line x1="429.91" y1="0.6" x2="429.91" y2="2.60" stroke="#000" stroke-width="0.8"/>
<line x1="439.50" y1="224.3" x2="439.50" y2="222.30" stroke="#000" stroke-width="0.8"/>
<line x1="439.50" y1="0.6" x2="439.50" y2="2.60" stroke="#000" stroke-width="0.8"/>
<line x1="446.31" y1="224.3" x2="446.31" y2="222.30" stroke="#000" stroke-width="0.8"/>
<line x1="446.31" y1="0.6" x2="446.31" y2="2.60" stroke="#000" stroke-width="0.8"/>
<line x1="451.59" y1="224.3" x2="451.59" y2="222.30" stroke="#000" stroke-width="0.8"/>
<line x1="451.59" y1="0.6" x2="451.59" y2="2.60" stroke="#000" stroke-width="0.8"/>
<line x1="455.91" y1="224.3" x2="455.91" y2="222.30" stroke="#000" stroke-width="0.8"/>
<line x1="455.91" y1="0.6" x2="455.91" y2="2.60" stroke="#000" stroke-width="0.8"/>
<line x1="459.56" y1="224.3" x2="459.56" y2="222.30" stroke="#000" stroke-width="0.8"/>
<line x1="459.56" y1="0.6" x2="459.56" y2="2.60" stroke="#000" stroke-width="0.8"/>
<line x1="462.72" y1="224.3" x2="462.72" y2="222.30" stroke="#000" stroke-width="0.8"/>
<line x1="462.72" y1="0.6" x2="462.72" y2="2.60" stroke="#000" stroke-width="0.8"/>
<line x1="465.51" y1="224.3" x2="465.51" y2="222.30" stroke="#000" stroke-width="0.8"/>
<line x1="465.51" y1="0.6" x2="465.51" y2="2.60" stroke="#000" stroke-width="0.8"/>
<line x1="484.41" y1="224.3" x2="484.41" y2="222.30" stroke="#000" stroke-width="0.8"/>
<line x1="484.41" y1="0.6" x2="484.41" y2="2.60" stroke="#000" stroke-width="0.8"/>
<line x1="494.00" y1="224.3" x2="494.00" y2="222.30" stroke="#000" stroke-width="0.8"/>
<line x1="494.00" y1="0.6" x2="494.00" y2="2.60" stroke="#000" stroke-width="0.8"/>
<line x1="500.81" y1="224.3" x2="500.81" y2="222.30" stroke="#000" stroke-width="0.8"/>
<line x1="500.81" y1="0.6" x2="500.81" y2="2.60" stroke="#000" stroke-width="0.8"/>
<line x1="506.09" y1="224.3" x2="506.09" y2="222.30" stroke="#000" stroke-width="0.8"/>
<line x1="506.09" y1="0.6" x2="506.09" y2="2.60" stroke="#000" stroke-width="0.8"/>
<line x1="510.41" y1="224.3" x2="510.41" y2="222.30" stroke="#000" stroke-width="0.8"/>
<line x1="510.41" y1="0.6" x2="510.41" y2="2.60" stroke="#000" stroke-width="0.8"/>
<line x1="514.06" y1="224.3" x2="514.06" y2="222.30" stroke="#000" stroke-width="0.8"/>
<line x1="514.06" y1="0.6" x2="514.06" y2="2.60" stroke="#000" stroke-width="0.8"/>
<line x1="517.22" y1="224.3" x2="517.22" y2="222.30" stroke="#000" stroke-width="0.8"/>
<line x1="517.22" y1="0.6" x2="517.22" y2="2.60" stroke="#000" stroke-width="0.8"/>
<line x1="520.01" y1="224.3" x2="520.01" y2="222.30" stroke="#000" stroke-width="0.8"/>
<line x1="520.01" y1="0.6" x2="520.01" y2="2.60" stroke="#000" stroke-width="0.8"/>
<line x1="538.91" y1="224.3" x2="538.91" y2="222.30" stroke="#000" stroke-width="0.8"/>
<line x1="538.91" y1="0.6" x2="538.91" y2="2.60" stroke="#000" stroke-width="0.8"/>
<line x1="307.6" y1="183.20" x2="311.20" y2="183.20" stroke="#000" stroke-width="1.1"/>
<line x1="542.75" y1="183.20" x2="539.15" y2="183.20" stroke="#000" stroke-width="1.1"/>
<line x1="307.6" y1="127.90" x2="311.20" y2="127.90" stroke="#000" stroke-width="1.1"/>
<line x1="542.75" y1="127.90" x2="539.15" y2="127.90" stroke="#000" stroke-width="1.1"/>
<line x1="307.6" y1="72.60" x2="311.20" y2="72.60" stroke="#000" stroke-width="1.1"/>
<line x1="542.75" y1="72.60" x2="539.15" y2="72.60" stroke="#000" stroke-width="1.1"/>
<line x1="307.6" y1="17.30" x2="311.20" y2="17.30" stroke="#000" stroke-width="1.1"/>
<line x1="542.75" y1="17.30" x2="539.15" y2="17.30" stroke="#000" stroke-width="1.1"/>
<text x="35.71" y="22.20" font-size="14.60" textLength="17.40" lengthAdjust="spacingAndGlyphs" fill="#000" ><tspan>10</tspan></text>
<text x="53.20" y="16.60" font-size="9.60" textLength="5.51" lengthAdjust="spacingAndGlyphs" fill="#000" ><tspan>5</tspan></text>
<text x="35.71" y="77.80" font-size="14.60" textLength="17.40" lengthAdjust="spacingAndGlyphs" fill="#000" ><tspan>10</tspan></text>
<text x="53.07" y="72.20" font-size="9.60" textLength="5.52" lengthAdjust="spacingAndGlyphs" fill="#000" ><tspan>4</tspan></text>
<text x="25.45" y="133.00" font-size="14.60" textLength="33.54" lengthAdjust="spacingAndGlyphs" fill="#000" ><tspan>1000</tspan></text>
<text x="33.65" y="188.80" font-size="14.60" textLength="25.24" lengthAdjust="spacingAndGlyphs" fill="#000" ><tspan>100</tspan></text>
<text x="97.10" y="238.80" font-size="14.60" textLength="17.41" lengthAdjust="spacingAndGlyphs" fill="#000" ><tspan>30</tspan></text>
<text x="137.85" y="238.80" font-size="14.60" textLength="16.73" lengthAdjust="spacingAndGlyphs" fill="#000" ><tspan>40</tspan></text>
<text x="168.10" y="238.80" font-size="14.60" textLength="16.58" lengthAdjust="spacingAndGlyphs" fill="#000" ><tspan>50</tspan></text>
<text x="259.82" y="238.80" font-size="14.60" textLength="25.78" lengthAdjust="spacingAndGlyphs" fill="#000" ><tspan>100</tspan></text>
<text x="347.43" y="238.80" font-size="14.60" textLength="17.07" lengthAdjust="spacingAndGlyphs" fill="#000" ><tspan>10</tspan></text>
<text x="364.37" y="233.20" font-size="9.60" textLength="5.52" lengthAdjust="spacingAndGlyphs" fill="#000" ><tspan>4</tspan></text>
<text x="401.93" y="238.80" font-size="14.60" textLength="17.07" lengthAdjust="spacingAndGlyphs" fill="#000" ><tspan>10</tspan></text>
<text x="418.68" y="233.20" font-size="9.60" textLength="5.87" lengthAdjust="spacingAndGlyphs" fill="#000" ><tspan>5</tspan></text>
<text x="456.43" y="238.80" font-size="14.60" textLength="17.07" lengthAdjust="spacingAndGlyphs" fill="#000" ><tspan>10</tspan></text>
<text x="473.05" y="233.20" font-size="9.60" textLength="6.03" lengthAdjust="spacingAndGlyphs" fill="#000" ><tspan>6</tspan></text>
<text x="510.93" y="238.80" font-size="14.60" textLength="17.07" lengthAdjust="spacingAndGlyphs" fill="#000" ><tspan>10</tspan></text>
<text x="527.54" y="233.20" font-size="9.60" textLength="6.12" lengthAdjust="spacingAndGlyphs" fill="#000" ><tspan>7</tspan></text>
<text x="175.83" y="194.20" font-size="13.20" textLength="8.77" lengthAdjust="spacingAndGlyphs" fill="#000" ><tspan font-style="italic">N</tspan></text>
<text x="187.10" y="194.20" font-size="13.20" textLength="10.82" lengthAdjust="spacingAndGlyphs" fill="#000" ><tspan>=</tspan></text>
<text x="200.43" y="194.20" font-size="13.20" textLength="27.48" lengthAdjust="spacingAndGlyphs" fill="#000" ><tspan>5.88</tspan></text>
<text x="235.08" y="194.20" font-size="13.20" textLength="9.21" lengthAdjust="spacingAndGlyphs" fill="#000" ><tspan font-style="italic">P</tspan></text>
<text x="246.10" y="194.20" font-size="13.20" textLength="10.82" lengthAdjust="spacingAndGlyphs" fill="#000" ><tspan>=</tspan></text>
<text x="259.40" y="194.20" font-size="13.20" textLength="29.69" lengthAdjust="spacingAndGlyphs" fill="#000" ><tspan>0.80</tspan></text>
<text x="161.65" y="214.50" font-size="13.20" textLength="8.86" lengthAdjust="spacingAndGlyphs" fill="#000" ><tspan font-style="italic">A</tspan></text>
<text x="172.10" y="214.50" font-size="13.20" textLength="10.82" lengthAdjust="spacingAndGlyphs" fill="#000" ><tspan>=</tspan></text>
<text x="187.95" y="214.50" font-size="13.20" textLength="10.10" lengthAdjust="spacingAndGlyphs" fill="#000" ><tspan>−</tspan></text>
<text x="202.34" y="214.50" font-size="13.20" textLength="25.00" lengthAdjust="spacingAndGlyphs" fill="#000" ><tspan>7.15</tspan></text>
<text x="234.03" y="214.50" font-size="13.20" textLength="8.53" lengthAdjust="spacingAndGlyphs" fill="#000" ><tspan font-style="italic">σ</tspan></text>
<text x="245.10" y="214.50" font-size="13.20" textLength="10.82" lengthAdjust="spacingAndGlyphs" fill="#000" ><tspan>=</tspan></text>
<text x="258.90" y="214.50" font-size="13.20" textLength="29.74" lengthAdjust="spacingAndGlyphs" fill="#000" ><tspan>0.35</tspan></text>
<text x="421.43" y="194.20" font-size="13.20" textLength="8.77" lengthAdjust="spacingAndGlyphs" fill="#000" ><tspan font-style="italic">N</tspan></text>
<text x="433.10" y="194.20" font-size="13.20" textLength="10.82" lengthAdjust="spacingAndGlyphs" fill="#000" ><tspan>=</tspan></text>
<text x="445.97" y="194.20" font-size="13.20" textLength="26.52" lengthAdjust="spacingAndGlyphs" fill="#000" ><tspan>0.77</tspan></text>
<text x="479.58" y="194.20" font-size="13.20" textLength="9.21" lengthAdjust="spacingAndGlyphs" fill="#000" ><tspan font-style="italic">P</tspan></text>
<text x="490.60" y="194.20" font-size="13.20" textLength="10.82" lengthAdjust="spacingAndGlyphs" fill="#000" ><tspan>=</tspan></text>
<text x="503.90" y="194.20" font-size="13.20" textLength="29.66" lengthAdjust="spacingAndGlyphs" fill="#000" ><tspan>0.97</tspan></text>
<text x="406.45" y="214.50" font-size="13.20" textLength="8.86" lengthAdjust="spacingAndGlyphs" fill="#000" ><tspan font-style="italic">A</tspan></text>
<text x="417.10" y="214.50" font-size="13.20" textLength="10.82" lengthAdjust="spacingAndGlyphs" fill="#000" ><tspan>=</tspan></text>
<text x="432.65" y="214.50" font-size="13.20" textLength="10.10" lengthAdjust="spacingAndGlyphs" fill="#000" ><tspan>−</tspan></text>
<text x="445.46" y="214.50" font-size="13.20" textLength="27.04" lengthAdjust="spacingAndGlyphs" fill="#000" ><tspan>0.62</tspan></text>
<text x="478.53" y="214.50" font-size="13.20" textLength="8.53" lengthAdjust="spacingAndGlyphs" fill="#000" ><tspan font-style="italic">σ</tspan></text>
<text x="489.60" y="214.50" font-size="13.20" textLength="10.82" lengthAdjust="spacingAndGlyphs" fill="#000" ><tspan>=</tspan></text>
<text x="503.40" y="214.50" font-size="13.20" textLength="29.74" lengthAdjust="spacingAndGlyphs" fill="#000" ><tspan>0.15</tspan></text>
<text x="70.45" y="18.20" font-size="16.00" textLength="5.65" lengthAdjust="spacingAndGlyphs" fill="#000" ><tspan>(</tspan></text>
<text x="76.76" y="19.70" font-size="19.20" textLength="10.91" lengthAdjust="spacingAndGlyphs" fill="#000" ><tspan font-style="italic">a</tspan></text>
<text x="87.50" y="18.20" font-size="16.00" textLength="5.65" lengthAdjust="spacingAndGlyphs" fill="#000" ><tspan>)</tspan></text>
<text x="314.45" y="18.20" font-size="16.00" textLength="5.65" lengthAdjust="spacingAndGlyphs" fill="#000" ><tspan>(</tspan></text>
<text x="320.91" y="19.70" font-size="19.20" textLength="11.53" lengthAdjust="spacingAndGlyphs" fill="#000" ><tspan font-style="italic">b</tspan></text>
<text x="332.60" y="18.20" font-size="16.00" textLength="5.65" lengthAdjust="spacingAndGlyphs" fill="#000" ><tspan>)</tspan></text>
<text x="164.61" y="260.00" font-size="19.20" textLength="11.48" lengthAdjust="spacingAndGlyphs" fill="#000" ><tspan font-style="italic">T</tspan></text>
<text x="175.79" y="263.60" font-size="13.44" textLength="19.19" lengthAdjust="spacingAndGlyphs" fill="#000" ><tspan>kin</tspan></text>
<text x="311.81" y="263.50" font-size="19.20" textLength="10.70" lengthAdjust="spacingAndGlyphs" fill="#000" ><tspan font-style="italic">P</tspan></text>
<line x1="323.4" y1="265.0" x2="326.8" y2="251.0" stroke="#000" stroke-width="1.45"/>
<text x="327.69" y="263.50" font-size="19.20" textLength="9.33" lengthAdjust="spacingAndGlyphs" fill="#000" ><tspan font-style="italic">k</tspan></text>
<text x="346.96" y="263.50" font-size="19.20" textLength="13.57" lengthAdjust="spacingAndGlyphs" fill="#000" ><tspan>≡</tspan></text>
<text x="363.95" y="263.50" font-size="19.20" textLength="11.90" lengthAdjust="spacingAndGlyphs" fill="#000" ><tspan font-style="italic">T</tspan></text>
<text x="375.50" y="266.10" font-size="13.44" textLength="18.96" lengthAdjust="spacingAndGlyphs" fill="#000" ><tspan>kin</tspan></text>
<text x="398.68" y="263.50" font-size="19.20" textLength="12.84" lengthAdjust="spacingAndGlyphs" fill="#000" ><tspan>×</tspan></text>
<text x="423.50" y="263.50" font-size="19.20" textLength="9.90" lengthAdjust="spacingAndGlyphs" fill="#000" ><tspan font-style="italic">n</tspan></text>
<text x="434.30" y="265.80" font-size="11.90" textLength="8.79" lengthAdjust="spacingAndGlyphs" fill="#000" ><tspan>H</tspan></text>
<text x="442.43" y="268.20" font-size="9.40" textLength="6.35" lengthAdjust="spacingAndGlyphs" fill="#000" ><tspan>2</tspan></text>
<text x="462.71" y="261.97" font-size="16.52" textLength="5.03" lengthAdjust="spacingAndGlyphs" fill="#000" ><tspan>[</tspan></text>
<text x="468.93" y="263.50" font-size="19.20" textLength="11.97" lengthAdjust="spacingAndGlyphs" fill="#000" ><tspan>K</tspan></text>
<text x="485.03" y="263.50" font-size="19.20" textLength="27.21" lengthAdjust="spacingAndGlyphs" fill="#000" ><tspan>cm</tspan></text>
<rect x="513.7" y="252.75" width="8.4" height="1.15" fill="#000"/>
<text x="523.11" y="257.09" font-size="11.72" textLength="7.16" lengthAdjust="spacingAndGlyphs" fill="#000" ><tspan>3</tspan></text>
<text x="533.07" y="262.19" font-size="16.41" textLength="4.75" lengthAdjust="spacingAndGlyphs" fill="#000" ><tspan>]</tspan></text>
<polyline points="421.0,250.9 417.6,258.4 421.0,265.9" fill="none" stroke="#000" stroke-width="1.25"/>
<polyline points="451.6,250.9 454.0,258.4 451.6,265.9" fill="none" stroke="#000" stroke-width="1.25"/>
<polyline points="0.3,128.6 8.0,131.3 15.6,128.6" fill="none" stroke="#000" stroke-width="1.25"/>
<polyline points="0.3,96.9 8.0,94.2 15.6,96.9" fill="none" stroke="#000" stroke-width="1.25"/>
<g transform="translate(0,0)">
</g>
<g transform="translate(14.00,0) rotate(-90)"><text x="-125.91" y="0.00" font-size="19.20" textLength="10.47" lengthAdjust="spacingAndGlyphs" fill="#000" ><tspan font-style="italic">n</tspan></text></g>
<g transform="translate(16.10,0) rotate(-90)"><text x="-114.57" y="0.00" font-size="13.40" textLength="8.53" lengthAdjust="spacingAndGlyphs" fill="#000" ><tspan>H</tspan></text></g>
<g transform="translate(18.40,0) rotate(-90)"><text x="-105.19" y="0.00" font-size="9.20" textLength="4.27" lengthAdjust="spacingAndGlyphs" fill="#000" ><tspan>2</tspan></text></g>
<rect x="564.6" y="43.6" width="194.4" height="155.4" rx="3" ry="3" fill="#fff" fill-opacity="0.8" stroke="#d6d6d6" stroke-width="1"/>
<line x1="568.95" y1="63.0" x2="593.55" y2="63.0" stroke="#7a7a7a" stroke-width="2.1" stroke-dasharray="2.1 3.525"/>
<text x="607.88" y="58.60" font-size="14.60" textLength="27.25" lengthAdjust="spacingAndGlyphs" fill="#000" ><tspan>This</tspan></text>
<text x="640.03" y="58.60" font-size="14.60" textLength="31.35" lengthAdjust="spacingAndGlyphs" fill="#000" ><tspan>work</tspan></text>
<text x="607.24" y="73.20" font-size="14.60" textLength="5.15" lengthAdjust="spacingAndGlyphs" fill="#000" ><tspan>(</tspan></text>
<text x="611.88" y="73.20" font-size="14.60" textLength="22.19" lengthAdjust="spacingAndGlyphs" fill="#000" ><tspan>log</tspan></text>
<text x="633.20" y="75.79" font-size="10.88" textLength="11.71" lengthAdjust="spacingAndGlyphs" fill="#000" ><tspan>10</tspan></text>
<text x="645.16" y="73.20" font-size="14.60" textLength="7.58" lengthAdjust="spacingAndGlyphs" fill="#000" ><tspan font-style="italic">y</tspan></text>
<text x="656.65" y="73.20" font-size="14.60" textLength="10.22" lengthAdjust="spacingAndGlyphs" fill="#000" ><tspan>=</tspan></text>
<text x="669.58" y="73.20" font-size="14.60" textLength="9.92" lengthAdjust="spacingAndGlyphs" fill="#000" ><tspan font-style="italic">N</tspan></text>
<text x="681.91" y="73.20" font-size="14.60" textLength="21.64" lengthAdjust="spacingAndGlyphs" fill="#000" ><tspan>log</tspan></text>
<text x="702.70" y="75.69" font-size="10.88" textLength="11.71" lengthAdjust="spacingAndGlyphs" fill="#000" ><tspan>10</tspan></text>
<text x="715.88" y="73.20" font-size="14.60" textLength="5.97" lengthAdjust="spacingAndGlyphs" fill="#000" ><tspan font-style="italic">x</tspan></text>
<text x="726.36" y="75.09" font-size="16.96" textLength="10.10" lengthAdjust="spacingAndGlyphs" fill="#000" ><tspan>+</tspan></text>
<text x="739.96" y="73.20" font-size="14.60" textLength="8.96" lengthAdjust="spacingAndGlyphs" fill="#000" ><tspan font-style="italic">A</tspan></text>
<text x="749.52" y="73.20" font-size="14.60" textLength="4.77" lengthAdjust="spacingAndGlyphs" fill="#000" ><tspan>)</tspan></text>
<g opacity="0.08" stroke="#1e90ff" stroke-width="1"><line x1="576.5" y1="86.0" x2="590" y2="86.0"/><line x1="583.2" y1="79.0" x2="583.2" y2="93.0"/></g>
<rect x="580.90" y="83.70" width="4.60" height="4.60" fill="none" stroke="#1e90ff" stroke-width="1.35"/>
<text x="607.18" y="91.00" font-size="14.60" textLength="31.11" lengthAdjust="spacingAndGlyphs" fill="#000" ><tspan>local</tspan></text>
<text x="643.18" y="91.00" font-size="14.60" textLength="26.48" lengthAdjust="spacingAndGlyphs" fill="#000" ><tspan>SFG</tspan></text>
<g opacity="0.08" stroke="#ff7f0e" stroke-width="1"><line x1="576.5" y1="102.6" x2="590" y2="102.6"/><line x1="583.2" y1="95.6" x2="583.2" y2="109.6"/></g>
<rect x="580.70" y="100.10" width="5.00" height="5.00" fill="#ff7f0e"/>
<text x="607.18" y="107.60" font-size="14.60" textLength="31.07" lengthAdjust="spacingAndGlyphs" fill="#000" ><tspan>local</tspan></text>
<text x="643.13" y="107.60" font-size="14.60" textLength="51.60" lengthAdjust="spacingAndGlyphs" fill="#000" ><tspan>(U)LIRG</tspan></text>
<g opacity="0.08" stroke="#2ca02c" stroke-width="1"><line x1="576.5" y1="119.2" x2="590" y2="119.2"/><line x1="583.2" y1="112.2" x2="583.2" y2="126.2"/></g>
<circle cx="583.20" cy="119.20" r="2.60" fill="none" stroke="#2ca02c" stroke-width="1.3"/>
<text x="607.14" y="124.20" font-size="14.60" textLength="41.57" lengthAdjust="spacingAndGlyphs" fill="#000" ><tspan>high-</tspan><tspan font-style="italic">z</tspan></text>
<text x="652.78" y="124.20" font-size="14.60" textLength="19.78" lengthAdjust="spacingAndGlyphs" fill="#000" ><tspan>MS</tspan></text>
<text x="677.17" y="124.20" font-size="14.60" textLength="25.39" lengthAdjust="spacingAndGlyphs" fill="#000" ><tspan>BzK</tspan></text>
<g opacity="0.08" stroke="#40e0d0" stroke-width="1"><line x1="576.5" y1="135.8" x2="590" y2="135.8"/><line x1="583.2" y1="128.8" x2="583.2" y2="142.8"/></g>
<path d="M583.20 133.20L585.80 135.80L583.20 138.40L580.60 135.80Z" fill="none" stroke="#40e0d0" stroke-width="1.2"/>
<text x="607.14" y="140.80" font-size="14.60" textLength="41.73" lengthAdjust="spacingAndGlyphs" fill="#000" ><tspan>high-</tspan><tspan font-style="italic">z</tspan></text>
<text x="652.95" y="140.80" font-size="14.60" textLength="19.86" lengthAdjust="spacingAndGlyphs" fill="#000" ><tspan>MS</tspan></text>
<text x="677.29" y="140.80" font-size="14.60" textLength="26.08" lengthAdjust="spacingAndGlyphs" fill="#000" ><tspan>V20</tspan></text>
<g opacity="0.08" stroke="#ffd000" stroke-width="1"><line x1="576.5" y1="152.4" x2="590" y2="152.4"/><line x1="583.2" y1="145.4" x2="583.2" y2="159.4"/></g>
<path d="M580.00 150.15L586.40 150.15L583.20 155.55Z" fill="#ffd000"/>
<text x="607.14" y="157.40" font-size="14.60" textLength="41.54" lengthAdjust="spacingAndGlyphs" fill="#000" ><tspan>high-</tspan><tspan font-style="italic">z</tspan></text>
<text x="652.81" y="157.40" font-size="14.60" textLength="17.20" lengthAdjust="spacingAndGlyphs" fill="#000" ><tspan>SB</tspan></text>
<text x="674.61" y="157.40" font-size="14.60" textLength="25.96" lengthAdjust="spacingAndGlyphs" fill="#000" ><tspan>V20</tspan></text>
<g opacity="0.08" stroke="#ff0000" stroke-width="1"><line x1="576.5" y1="169.0" x2="590" y2="169.0"/><line x1="583.2" y1="162.0" x2="583.2" y2="176.0"/></g>
<polygon points="583.20,163.50 584.55,167.24 588.53,167.37 585.39,169.81 586.49,173.63 583.20,171.40 579.91,173.63 581.01,169.81 577.87,167.37 581.85,167.24" fill="#ff0000"/>
<text x="607.14" y="174.00" font-size="14.60" textLength="41.70" lengthAdjust="spacingAndGlyphs" fill="#000" ><tspan>high-</tspan><tspan font-style="italic">z</tspan></text>
<text x="652.99" y="174.00" font-size="14.60" textLength="17.27" lengthAdjust="spacingAndGlyphs" fill="#000" ><tspan>SB</tspan></text>
<text x="675.06" y="174.00" font-size="14.60" textLength="38.25" lengthAdjust="spacingAndGlyphs" fill="#000" ><tspan>FMOS</tspan></text>
<g opacity="0.08" stroke="#ff00ff" stroke-width="1"><line x1="576.5" y1="186.1" x2="590" y2="186.1"/><line x1="583.2" y1="179.1" x2="583.2" y2="193.1"/></g>
<circle cx="583.20" cy="186.10" r="2.70" fill="#ff00ff"/>
<text x="607.13" y="191.10" font-size="14.60" textLength="42.05" lengthAdjust="spacingAndGlyphs" fill="#000" ><tspan>high-</tspan><tspan font-style="italic">z</tspan></text>
<text x="653.35" y="191.10" font-size="14.60" textLength="17.41" lengthAdjust="spacingAndGlyphs" fill="#000" ><tspan>SB</tspan></text>
<text x="675.66" y="191.10" font-size="14.60" textLength="30.55" lengthAdjust="spacingAndGlyphs" fill="#000" ><tspan>SMG</tspan></text>
</svg>
</body></html>
